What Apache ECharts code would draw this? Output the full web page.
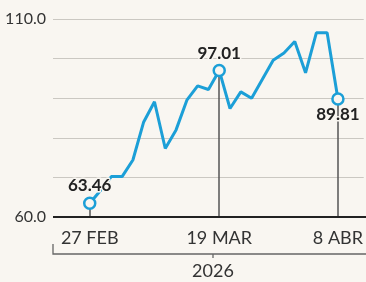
<!DOCTYPE html>
<html>
<head>
<meta charset="utf-8">
<script src="https://cdn.jsdelivr.net/npm/echarts@6/dist/echarts.min.js"></script>
<style>
  html, body { margin: 0; padding: 0; background: #f9f6f1; }
  #chart { width: 366px; height: 282px; }
</style>
</head>
<body>
<div id="chart"></div>
<script>
// precio por sesion (indice de la sesion -> valor)
var prices = [63.46, 66.7, 70.2, 70.2, 74.4, 84.0, 89.1, 77.3, 82.0, 89.5, 93.1, 92.2,
  97.01, 87.4, 91.6, 90.0, 94.8, 99.6, 101.4, 104.3, 96.4, 106.5, 106.5, 89.81];
var dateLabels = { 0: '27 FEB', 12: '19 MAR', 23: '8 ABR' };
var highlighted = [0, 12, 23];
var labelPos = { 0: 'top', 12: 'top', 23: 'bottom' };
var labelGap = { 0: 3, 12: 2, 23: 0 };
var yTicks = [60, 110];
var yearLabel = '2026';

var bg = '#f9f6f1';
var blue = '#1c9fd7';
var font = 'Lato';

var chart = echarts.init(document.getElementById('chart'));

var seriesData = prices.map(function (v, i) {
  var item = { value: [i, v], symbolSize: 0 };
  if (highlighted.indexOf(i) >= 0) {
    item.symbol = 'circle';
    item.symbolSize = 11;
    item.label = {
      show: true,
      position: labelPos[i],
      distance: labelGap[i],
      formatter: v.toFixed(2),
      fontFamily: font,
      fontWeight: 'bold',
      fontSize: 17,
      color: '#222',
      textBorderColor: bg,
      textBorderWidth: 3
    };
  }
  return item;
});

var drops = highlighted.map(function (i) {
  return [{ coord: [i, prices[i]] }, { coord: [i, 60] }];
});

chart.setOption({
  backgroundColor: bg,
  animation: false,
  grid: { left: 53, right: 0, top: 19, bottom: 65 },
  xAxis: {
    type: 'value',
    min: -3.404,
    max: 25.39,
    splitLine: { show: false },
    axisLine: { show: false },
    axisTick: { show: false },
    axisLabel: {
      customValues: highlighted,
      formatter: function (v) { return dateLabels[v] || ''; },
      fontFamily: font,
      fontSize: 18,
      color: '#333',
      margin: 12
    }
  },
  yAxis: {
    type: 'value',
    min: 60,
    max: 110,
    interval: 10,
    axisLine: { show: false },
    axisTick: { show: false },
    splitLine: { lineStyle: { color: '#cbc8c2', width: 1 } },
    axisLabel: {
      customValues: yTicks,
      formatter: function (v) { return v.toFixed(1); },
      fontFamily: font,
      fontSize: 16,
      color: '#333',
      margin: 7
    }
  },
  series: [{
    type: 'line',
    data: seriesData,
    showSymbol: true,
    symbol: 'circle',
    itemStyle: { color: bg, borderColor: blue, borderWidth: 2.5 },
    lineStyle: { color: blue, width: 3 },
    z: 3,
    markLine: {
      silent: true,
      symbol: 'none',
      label: { show: false },
      lineStyle: { color: '#555', width: 1.5, type: 'solid' },
      data: drops,
      z: 1
    }
  }],
  graphic: [
    { type: 'line', shape: { x1: 53, y1: 217, x2: 366, y2: 217 }, style: { stroke: '#222', lineWidth: 2.2 }, z: 2 },
    { type: 'polyline', shape: { points: [[53, 244], [53, 254], [373, 254]] }, style: { stroke: '#666', lineWidth: 1.3, fill: null } },
    { type: 'line', shape: { x1: 213, y1: 254, x2: 213, y2: 258 }, style: { stroke: '#666', lineWidth: 1.3 } },
    { type: 'text', x: 213, y: 262, style: { text: yearLabel, align: 'center', fontFamily: font, fontSize: 18, fill: '#333' } }
  ]
});
</script>
</body>
</html>
